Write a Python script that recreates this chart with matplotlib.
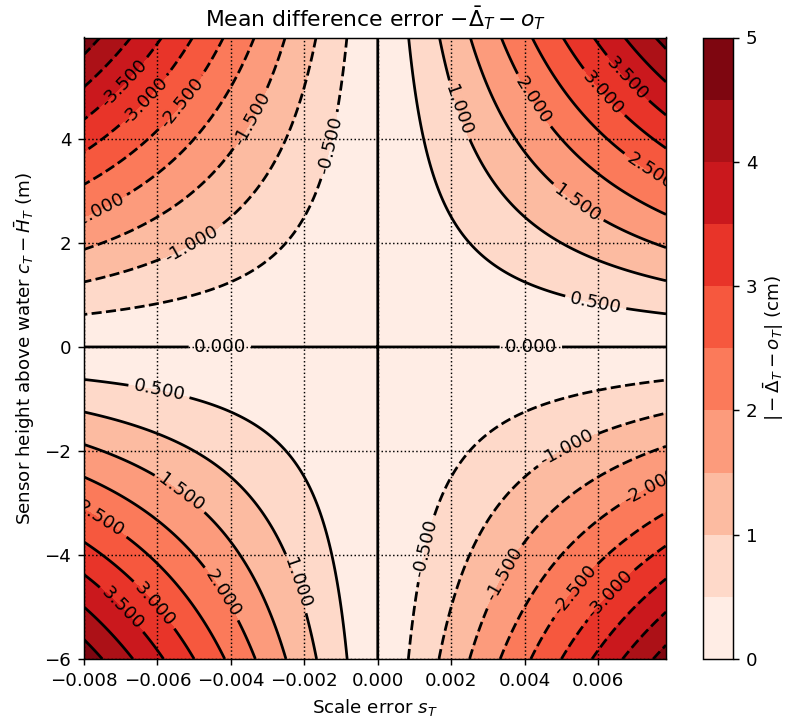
import numpy as np
import matplotlib
matplotlib.use("Agg")
import matplotlib.pyplot as plt

# Grid of the two error parameters
scale_error = np.linspace(-0.008, 0.00785, 400)      # s_T (dimensionless)
height_above_water = np.linspace(-6.0, 5.95, 400)    # c_T - H_T (m)
cm_per_m = 100.0

fill_levels = np.arange(0, 5.01, 0.5)
line_levels = np.arange(-4.5, 4.51, 0.5)
x_ticks = [-0.008, -0.006, -0.004, -0.002, 0.0, 0.002, 0.004, 0.006]
y_ticks = [-6, -4, -2, 0, 2, 4]
cbar_ticks = [0, 1, 2, 3, 4, 5]

S, C = np.meshgrid(scale_error, height_above_water)
err = cm_per_m * S * C

# where the contour labels sit (s, c)
label_spots = [
    (0.00223, 4.56), (0.00427, 4.75), (0.00618, 4.91), (0.00681, 5.17),
    (0.00750, 3.47), (0.00545, 2.77), (0.00594, 0.87), (0.00417, 0.0),
    (-0.00689, 5.04), (-0.00644, 4.78), (-0.00535, 4.69), (-0.00349, 4.40),
    (-0.00135, 3.88), (-0.00766, 2.62), (-0.00512, 2.03), (-0.00430, 0.0),
    (0.00509, -1.85), (0.00745, -2.69), (0.00127, -3.87), (0.00341, -4.35),
    (0.00531, -4.64), (0.00627, -4.71),
    (-0.00594, -0.79), (-0.00535, -2.78), (-0.00752, -3.29), (-0.00417, -4.71),
    (-0.00217, -4.54), (-0.00599, -4.90), (-0.00689, -4.99),
]

dpi = 131
fig = plt.figure(figsize=(787 / dpi, 720 / dpi), dpi=dpi)
ax = fig.add_axes([84 / 787, 1 - 659 / 720, (666 - 84) / 787, (659 - 37.5) / 720])
cax = fig.add_axes([702.5 / 787, 1 - 659 / 720, 30.5 / 787, (659 - 37.5) / 720])

cf = ax.contourf(S, C, np.abs(err), levels=fill_levels, cmap="Reds")
ax.grid(True, linestyle=":", color="k", linewidth=0.8)
cs = ax.contour(S, C, err, levels=line_levels, colors="k")
texts = ax.clabel(cs, fmt="%1.3f", inline=True, fontsize=10, manual=label_spots)
for t in cs.labelTexts:
    t.set_clip_on(True)
    t.set_clip_box(ax.bbox)

ax.set_xticks(x_ticks)
ax.set_yticks(y_ticks)
ax.set_xlim(scale_error[0], scale_error[-1])
ax.set_ylim(height_above_water[0], height_above_water[-1])
ax.set_xlabel(r"Scale error $s_T$")
ax.set_ylabel(r"Sensor height above water $c_T - \bar{H}_T$ (m)")
ax.set_title(r"Mean difference error $-\bar{\Delta}_T - o_T$")

cb = fig.colorbar(cf, cax=cax, ticks=cbar_ticks)
cb.set_label(r"$|-\bar{\Delta}_T - o_T|$ (cm)", labelpad=2)

fig.savefig("out.png", dpi=dpi)
